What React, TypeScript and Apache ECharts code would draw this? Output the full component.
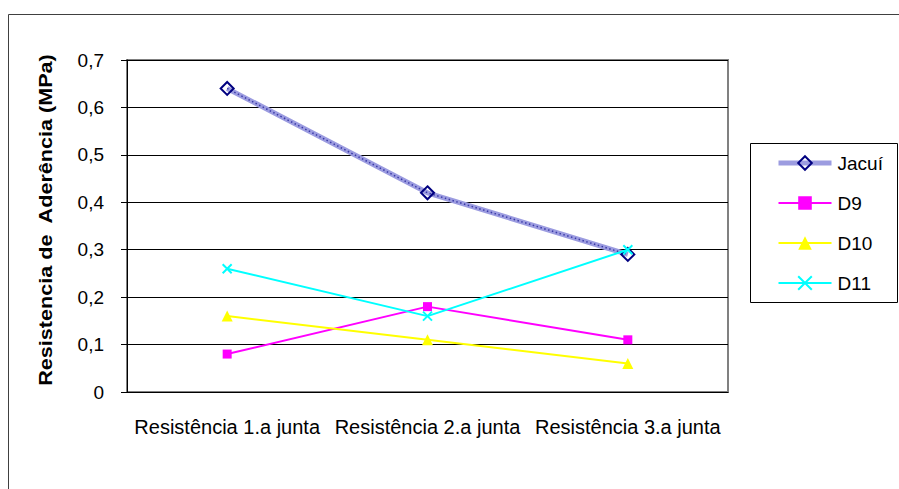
import React, { useEffect, useRef } from "react";
import * as echarts from "echarts";

const categories = ["Resistência 1.a junta", "Resistência 2.a junta", "Resistência 3.a junta"];
const jacui = [0.64, 0.42, 0.29];
const d9 = [0.08, 0.18, 0.11];
const d10 = [0.16, 0.11, 0.06];
const d11 = [0.26, 0.16, 0.3];
const yTitle = "Resistencia de  Aderência (MPa)";

const FONT = "Liberation Sans, Arial, sans-serif";

export default function App() {
  const ref = useRef<HTMLDivElement>(null);
  useEffect(() => {
    if (!ref.current) return;
    const chart = echarts.init(ref.current, null, { renderer: "svg" });
    chart.setOption({
      animation: false,
      backgroundColor: "#ffffff",
      textStyle: { fontFamily: FONT },
      grid: {
        left: 127,
        top: 60,
        right: 171,
        bottom: 97,
        show: true,
        borderColor: "#808080",
        borderWidth: 2,
      },
      xAxis: {
        type: "category",
        data: categories,
        boundaryGap: true,
        axisLine: { lineStyle: { color: "#000", width: 1 } },
        axisTick: { show: false },
        axisLabel: { interval: 0, color: "#000", fontSize: 20, margin: 25, fontFamily: FONT },
      },
      yAxis: {
        type: "value",
        min: 0,
        max: 0.7,
        interval: 0.1,
        axisLine: { show: true, lineStyle: { color: "#000", width: 1 } },
        axisTick: { show: true, length: 6, lineStyle: { color: "#000" } },
        axisLabel: {
          color: "#000",
          fontSize: 19,
          margin: 23,
          fontFamily: FONT,
          formatter: (v: number) => (v === 0 ? "0" : v.toFixed(1).replace(".", ",")),
        },
        splitLine: { show: true, lineStyle: { color: "#000", width: 1 } },
      },
      legend: {
        data: [
          { name: "Jacuí", lineStyle: { width: 5, color: "#9c9ce0" } },
          { name: "D9" },
          { name: "D10" },
          { name: "D11" },
        ],
        orient: "vertical",
        left: 776,
        top: 153,
        padding: 0,
        itemWidth: 53,
        itemHeight: 17,
        itemGap: 20,
        textStyle: { color: "#000", fontSize: 19, lineHeight: 20, fontFamily: FONT, padding: [0, 0, 0, 1] },
      },
      graphic: [
        {
          type: "rect",
          shape: { x: 8.5, y: 14.5, width: 1000, height: 1000 },
          style: { fill: "none", stroke: "#404040", lineWidth: 1 },
          silent: true,
        },
        {
          type: "rect",
          shape: { x: 750.5, y: 143.5, width: 147, height: 159 },
          style: { fill: "none", stroke: "#000", lineWidth: 1 },
          silent: true,
        },
        {
          type: "text",
          x: 46,
          y: 220,
          rotation: Math.PI / 2,
          scaleX: 1.2,
          style: {
            text: yTitle,
            font: "bold 18px Liberation Sans, Arial, sans-serif",
            fill: "#000",
            align: "center",
            verticalAlign: "middle",
          },
        },
      ],
      series: [
        {
          name: "Jacuí",
          type: "line",
          data: jacui,
          symbol: "diamond",
          symbolSize: 13,
          lineStyle: { color: "#9c9ce0", width: 5 },
          itemStyle: { color: "rgba(255,255,255,0)", borderColor: "#000080", borderWidth: 2 },
          z: 2,
        },
        {
          name: "Jacuí-pattern",
          type: "line",
          data: jacui,
          symbol: "none",
          silent: true,
          lineStyle: { color: "#3a3aa8", width: 1.5, type: [1.5, 2.5] },
          z: 2,
        },
        {
          name: "D9",
          type: "line",
          data: d9,
          symbol: "rect",
          symbolSize: 9,
          lineStyle: { color: "#ff00ff", width: 2 },
          itemStyle: { color: "#ff00ff", borderColor: "#ff00ff", borderWidth: 0 },
          z: 3,
        },
        {
          name: "D10",
          type: "line",
          data: d10,
          symbol: "triangle",
          symbolSize: 11,
          lineStyle: { color: "#ffff00", width: 2 },
          itemStyle: { color: "#ffff00", borderColor: "#ffff00", borderWidth: 0 },
          z: 3,
        },
        {
          name: "D11",
          type: "line",
          data: d11,
          symbol: "path://M0,0L10,10M10,0L0,10",
          symbolSize: 9,
          lineStyle: { color: "#00ffff", width: 2 },
          itemStyle: { color: "#00ffff", borderColor: "#00ffff", borderWidth: 2 },
          z: 4,
        },
      ],
    });
    return () => chart.dispose();
  }, []);
  return (
    <div
      ref={ref}
      style={{ position: "absolute", left: 0, top: 0, width: 899, height: 489 }}
    />
  );
}
